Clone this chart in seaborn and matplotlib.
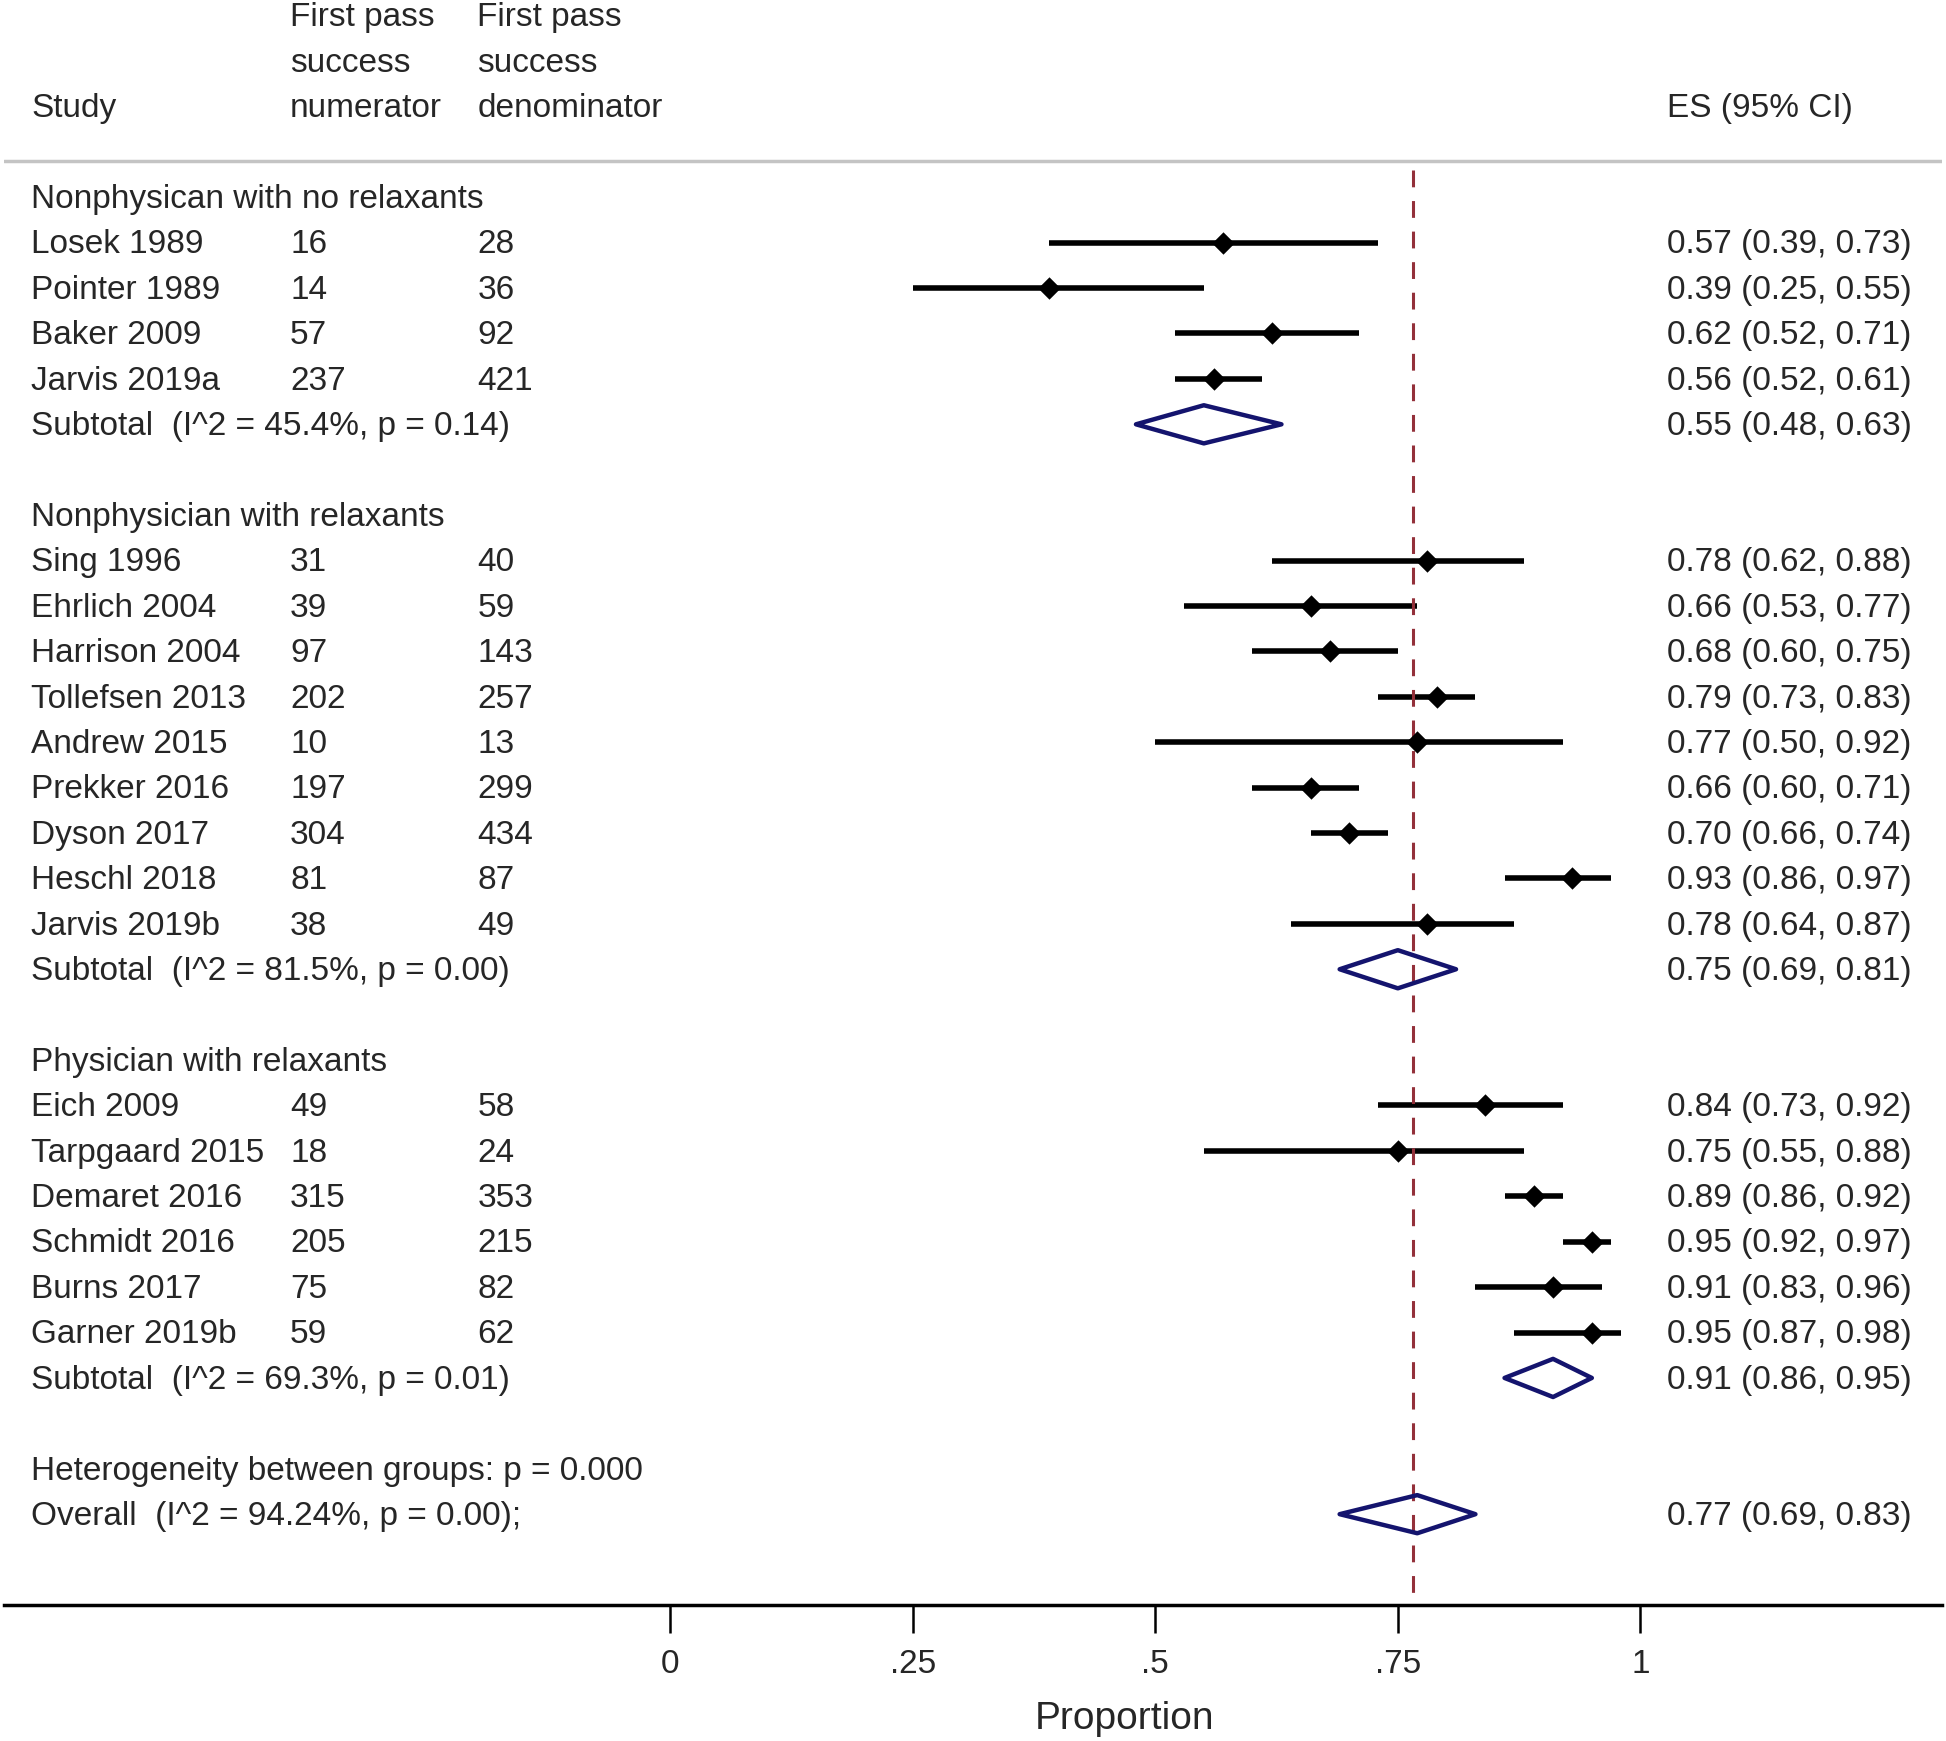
import matplotlib
matplotlib.use("Agg")
import matplotlib.pyplot as plt
import pandas as pd
import seaborn as sns

# Study rows (label, numerator, denominator, ES, lower, upper) per subgroup
groups = ["Nonphysican with no relaxants",
          "Nonphysician with relaxants",
          "Physician with relaxants"]

studies = [
    ["Losek 1989", "Pointer 1989", "Baker 2009", "Jarvis 2019a"],
    ["Sing 1996", "Ehrlich 2004", "Harrison 2004", "Tollefsen 2013", "Andrew 2015",
     "Prekker 2016", "Dyson 2017", "Heschl 2018", "Jarvis 2019b"],
    ["Eich 2009", "Tarpgaard 2015", "Demaret 2016", "Schmidt 2016", "Burns 2017",
     "Garner 2019b"],
]
numerators = [[16, 14, 57, 237],
              [31, 39, 97, 202, 10, 197, 304, 81, 38],
              [49, 18, 315, 205, 75, 59]]
denominators = [[28, 36, 92, 421],
                [40, 59, 143, 257, 13, 299, 434, 87, 49],
                [58, 24, 353, 215, 82, 62]]
es = [[0.57, 0.39, 0.62, 0.56],
      [0.78, 0.66, 0.68, 0.79, 0.77, 0.66, 0.70, 0.93, 0.78],
      [0.84, 0.75, 0.89, 0.95, 0.91, 0.95]]
lower = [[0.39, 0.25, 0.52, 0.52],
         [0.62, 0.53, 0.60, 0.73, 0.50, 0.60, 0.66, 0.86, 0.64],
         [0.73, 0.55, 0.86, 0.92, 0.83, 0.87]]
upper = [[0.73, 0.55, 0.71, 0.61],
         [0.88, 0.77, 0.75, 0.83, 0.92, 0.71, 0.74, 0.97, 0.87],
         [0.92, 0.88, 0.92, 0.97, 0.96, 0.98]]

# Subtotals
sub_labels = ["Subtotal  (I^2 = 45.4%, p = 0.14)",
              "Subtotal  (I^2 = 81.5%, p = 0.00)",
              "Subtotal  (I^2 = 69.3%, p = 0.01)"]
sub_es = [0.55, 0.75, 0.91]
sub_lower = [0.48, 0.69, 0.86]
sub_upper = [0.63, 0.81, 0.95]

# Overall
het_label = "Heterogeneity between groups: p = 0.000"
overall_label = "Overall  (I^2 = 94.24%, p = 0.00);"
overall_es = 0.77
overall_lower = 0.69
overall_upper = 0.83
ref_line = 0.766

tick_vals = [0, 0.25, 0.5, 0.75, 1]
tick_labels = ["0", ".25", ".5", ".75", "1"]

# build a long table of rows
rows = []
y = 0
for g in range(len(groups)):
    rows.append(dict(kind="group", y=y, label=groups[g]))
    y += 1
    for i in range(len(studies[g])):
        rows.append(dict(kind="study", y=y, label=studies[g][i], num=numerators[g][i],
                         den=denominators[g][i], es=es[g][i], lo=lower[g][i], hi=upper[g][i]))
        y += 1
    rows.append(dict(kind="sub", y=y, label=sub_labels[g], es=sub_es[g],
                     lo=sub_lower[g], hi=sub_upper[g]))
    y += 2
rows.append(dict(kind="group", y=y, label=het_label))
y += 1
rows.append(dict(kind="sub", y=y, label=overall_label, es=overall_es,
                 lo=overall_lower, hi=overall_upper))
df = pd.DataFrame(rows)
study_df = df[df.kind == "study"]
sub_df = df[df.kind == "sub"]

sns.set_style("white")
plt.rcParams["font.family"] = ["Liberation Sans", "DejaVu Sans"]
FS, TFS, LFS = 24, 24, 28
dy = 0.05  # small nudge so text sits on the row centre

fig = plt.figure(figsize=(19.46, 17.41), dpi=100)
ax = fig.add_axes([4 / 1946, 136 / 1741, 1938 / 1946, 1605 / 1741])

navy = "#14146e"
maroon = "#93303a"

# CI lines and point estimates
ax.hlines(study_df.y, study_df.lo, study_df.hi, color="black", lw=4)
sns.scatterplot(data=study_df, x="es", y="y", marker="D", s=130, color="black",
                linewidth=0, ax=ax, zorder=3)

# diamonds for pooled estimates
for _, r in sub_df.iterrows():
    ax.fill([r.lo, r.es, r.hi, r.es, r.lo], [r.y, r.y - 0.42, r.y, r.y + 0.42, r.y],
            facecolor="none", edgecolor=navy, lw=3.2, joinstyle="round", zorder=3)

ax.vlines(ref_line, -0.6, 31, color=maroon, lw=2.2, linestyles=(0, (5.5, 4.5)), zorder=2)
ax.axhline(-0.79, color="#c4c4c4", lw=2.5)

# text columns
xs, xn, xd, xe = -0.659, -0.392, -0.199, 1.028
header = [("First pass", "First pass"), ("success", "success"), ("numerator", "denominator")]
for k, (a, b) in enumerate(header):
    ax.text(xn, -4 + k + dy, a, va="center", fontsize=FS)
    ax.text(xd, -4 + k + dy, b, va="center", fontsize=FS)
ax.text(xs, -2 + dy, "Study", va="center", fontsize=FS)
ax.text(xe, -2 + dy, "ES (95% CI)", va="center", fontsize=FS)

for _, r in df.iterrows():
    ax.text(xs, r.y + dy, r.label, va="center", fontsize=FS)
    if r.kind == "study":
        ax.text(xn, r.y + dy, str(int(r.num)), va="center", fontsize=FS)
        ax.text(xd, r.y + dy, str(int(r.den)), va="center", fontsize=FS)
    if r.kind in ("study", "sub"):
        ax.text(xe, r.y + dy, f"{r.es:.2f} ({r.lo:.2f}, {r.hi:.2f})", va="center", fontsize=FS)

ax.set_xlim(-0.687, 1.311)
ax.set_ylim(31, -4.344)
ax.set_yticks([])
ax.set_ylabel("")
for s in ["top", "left", "right"]:
    ax.spines[s].set_visible(False)
ax.spines["bottom"].set_linewidth(2.5)
ax.spines["bottom"].set_color("black")
ax.set_xticks(tick_vals)
ax.set_xticklabels(tick_labels)
ax.tick_params(axis="x", direction="out", length=20, width=1.8, color="black",
               labelsize=TFS, pad=12, bottom=True)
ax.set_xlabel("Proportion", fontsize=LFS)
ax.xaxis.set_label_coords(0.578, -0.071)
ax.xaxis.label.set_va("center")

fig.savefig("out.png", dpi=100)
